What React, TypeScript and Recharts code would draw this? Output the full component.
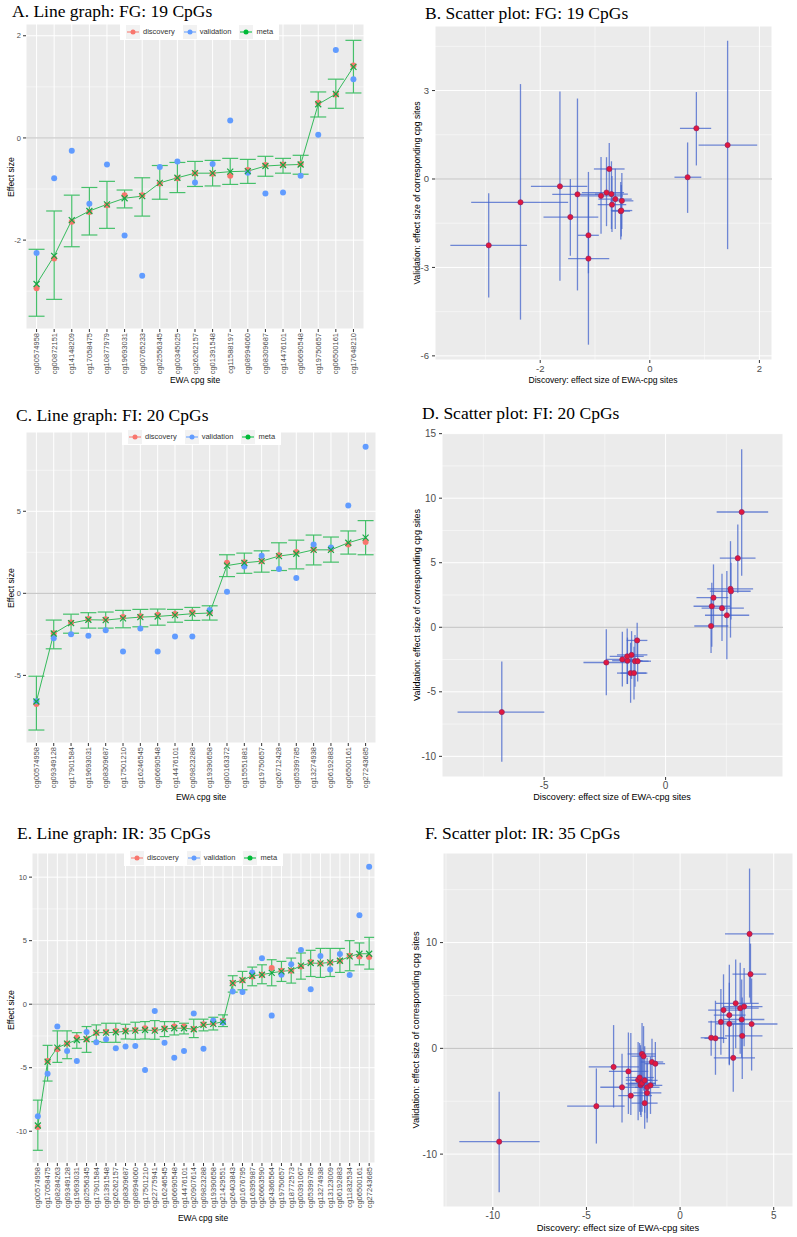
import React from "react";
import {
  ComposedChart,
  ScatterChart,
  Scatter,
  Line,
  XAxis,
  YAxis,
  CartesianGrid,
  ErrorBar,
  ReferenceLine,
} from "recharts";

const SANS = "'Liberation Sans', Arial, sans-serif";
const SERIF = "'Liberation Serif', 'Times New Roman', serif";

const seriesNames = ["discovery", "validation", "meta"];

// ---------- FG: 19 CpGs ----------
const fgSites = [
  "cg00574958", "cg00872151", "cg14148209", "cg17058475", "cg10877979", "cg19693031", "cg00765233",
  "cg02556345", "cg00345025", "cg26262157", "cg01391548", "cg11588197", "cg08994060", "cg08309687",
  "cg14476101", "cg06690548", "cg19750657", "cg06500161", "cg17648210",
];
const fgDiscovery = [-2.94, -2.36, -1.64, -1.45, -1.32, -1.12, -1.12, -0.89, -0.79, -0.69, -0.7, -0.74, -0.63, -0.53, -0.52, -0.51, 0.69, 0.85, 1.42];
const fgValidation = [-2.25, -0.79, -0.25, -1.29, -0.52, -1.91, -2.7, -0.57, -0.46, -0.87, -0.51, 0.34, -0.68, -1.09, -1.07, -0.74, 0.06, 1.72, 1.15];
const fgMeta = [-2.86, -2.31, -1.61, -1.43, -1.3, -1.18, -1.14, -0.88, -0.78, -0.69, -0.69, -0.66, -0.65, -0.55, -0.53, -0.52, 0.66, 0.86, 1.39];
const fgMetaLo = [-3.49, -3.16, -2.13, -1.9, -1.77, -1.37, -1.53, -1.2, -1.07, -0.95, -0.94, -0.91, -0.89, -0.75, -0.69, -0.71, 0.41, 0.58, 0.88];
const fgMetaHi = [-2.18, -1.43, -1.12, -0.97, -0.85, -1.02, -0.78, -0.54, -0.48, -0.46, -0.44, -0.4, -0.42, -0.36, -0.4, -0.34, 0.9, 1.15, 1.91];
const fgDiscLo = [-3.64, -3.26, -2.17, -1.94, -1.78, -1.31, -1.49, -1.27, -1.24, -0.95, -1.0, -1.02, -0.94, -0.7, -0.71, -0.72, 0.45, 0.55, 0.89];
const fgDiscHi = [-2.24, -1.49, -1.14, -0.94, -0.93, -0.93, -0.74, -0.49, -0.47, -0.43, -0.4, -0.46, -0.33, -0.36, -0.32, -0.3, 0.94, 1.12, 1.96];
const fgValLo = [-4.02, -4.77, -3.45, -2.6, -3.78, -3.2, -5.62, -1.86, -1.6, -1.8, -1.7, -0.55, -1.7, -2.05, -1.95, -1.7, -1.15, 0.46, -2.38];
const fgValHi = [-0.48, 3.22, 2.97, 0.0, 2.73, -0.6, 0.24, 0.75, 0.74, 0.1, 0.6, 1.22, 0.35, -0.1, -0.2, 0.2, 1.24, 2.95, 4.69];

// ---------- FI: 20 CpGs ----------
const fiSites = [
  "cg00574958", "cg09349128", "cg17901584", "cg19693031", "cg08309687", "cg17501210", "cg16246545",
  "cg06690548", "cg14476101", "cg09823288", "cg19390658", "cg00163372", "cg15551881", "cg19750657",
  "cg26712428", "cg05399785", "cg13274938", "cg06192883", "cg06500161", "cg27243685",
];
const fiDiscovery = [-6.74, -2.44, -1.78, -1.57, -1.58, -1.44, -1.4, -1.3, -1.26, -1.15, -1.17, 1.87, 1.9, 1.97, 2.32, 2.52, 2.67, 2.69, 2.97, 3.13];
const fiValidation = [-6.57, -2.73, -2.49, -2.59, -2.25, -3.55, -2.14, -3.55, -2.63, -2.63, -1.02, 0.1, 1.63, 2.29, 1.48, 0.93, 2.98, 2.79, 5.35, 8.93];
const fiMeta = [-6.59, -2.45, -1.82, -1.61, -1.63, -1.53, -1.45, -1.41, -1.33, -1.24, -1.2, 1.69, 1.86, 1.96, 2.27, 2.41, 2.65, 2.65, 3.08, 3.39];
const fiMetaLo = [-8.33, -3.38, -2.43, -2.12, -2.12, -2.1, -2.04, -1.94, -1.76, -1.65, -1.63, 1.02, 1.22, 1.29, 1.39, 1.49, 1.73, 1.9, 2.39, 2.35];
const fiMetaHi = [-5.05, -1.63, -1.27, -1.18, -1.14, -1.04, -0.98, -0.96, -0.98, -0.86, -0.76, 2.35, 2.45, 2.59, 3.08, 3.24, 3.55, 3.43, 3.8, 4.43];
const fiDiscLo = [-8.56, -3.38, -2.45, -2.2, -2.3, -2.0, -2.0, -1.85, -1.8, -1.7, -1.6, 1.18, 1.15, 1.27, 1.48, 1.62, 1.71, 1.82, 2.23, 2.1];
const fiDiscHi = [-4.99, -1.5, -1.1, -0.95, -0.9, -0.8, -0.75, -0.75, -0.7, -0.6, -0.75, 2.58, 2.65, 2.58, 3.22, 3.44, 3.6, 3.5, 3.7, 4.22];
const fiValLo = [-10.41, -5.26, -4.59, -4.4, -4.4, -5.85, -4.0, -5.6, -4.6, -4.2, -2.3, -2.0, -1.5, 0.0, -1.06, -2.47, -0.8, 0.6, 2.68, 4.0];
const fiValHi = [-2.65, -0.15, -0.34, -0.8, -0.1, -1.2, -0.3, -1.5, -0.6, -1.0, 0.35, 2.3, 3.45, 4.87, 4.15, 4.36, 6.67, 5.0, 7.96, 13.8];

// ---------- IR: 35 CpGs ----------
const irSites = [
  "cg00574958", "cg17058475", "cg08284263", "cg09349128", "cg19693031", "cg02556345", "cg17901584",
  "cg01391548", "cg26262157", "cg08309687", "cg08994060", "cg17501210", "cg22775941", "cg16246545",
  "cg06690548", "cg14476101", "cg20907614", "cg09823288", "cg19390658", "cg21429551", "cg26403843",
  "cg01676795", "cg16395987", "cg26663590", "cg24366564", "cg19750657", "cg18772573", "cg00391067",
  "cg05399785", "cg13274938", "cg13123009", "cg06192883", "cg11832534", "cg06500161", "cg27243685",
];
const irDiscovery = [-9.66, -4.47, -3.55, -3.1, -2.63, -2.76, -2.24, -2.16, -2.11, -2.08, -2.03, -1.89, -2.03, -1.89, -1.76, -1.76, -1.95, -1.58, -1.5, -1.32, 1.66, 1.89, 2.18, 2.32, 2.84, 2.63, 2.63, 2.97, 3.32, 3.21, 3.29, 3.42, 3.82, 3.76, 3.71];
const irValidation = [-8.82, -5.47, -1.76, -3.68, -4.47, -2.18, -3.0, -2.76, -3.47, -3.34, -3.29, -5.18, -0.53, -3.03, -4.21, -3.68, -0.74, -3.5, -1.29, -1.45, 1.0, 0.95, 2.5, 3.62, -0.9, 2.32, 3.14, 4.26, 1.18, 3.8, 2.73, 3.95, 2.3, 7.01, 10.82];
const irMeta = [-9.55, -4.53, -3.42, -3.1, -2.82, -2.76, -2.24, -2.24, -2.21, -2.13, -2.08, -2.03, -2.08, -1.95, -1.89, -1.89, -1.97, -1.63, -1.55, -1.37, 1.66, 1.89, 2.24, 2.32, 2.47, 2.58, 2.66, 3.03, 3.24, 3.21, 3.29, 3.42, 3.76, 3.97, 3.97];
const irMetaLo = [-11.5, -6.05, -4.58, -4.29, -3.47, -3.79, -2.95, -3.0, -3.0, -2.74, -2.76, -2.74, -2.76, -2.55, -2.42, -2.34, -2.63, -2.1, -2.03, -1.76, 0.95, 1.13, 1.45, 1.61, 1.45, 1.79, 1.66, 1.97, 2.18, 2.11, 2.18, 2.5, 2.63, 3.1, 2.76];
const irMetaHi = [-7.55, -3.24, -2.1, -2.1, -2.24, -1.76, -1.63, -1.5, -1.5, -1.58, -1.42, -1.37, -1.29, -1.37, -1.37, -1.5, -1.18, -1.18, -1.03, -0.84, 2.24, 2.58, 2.92, 3.1, 3.5, 3.37, 3.63, 4.03, 4.24, 4.39, 4.39, 4.39, 5.0, 4.82, 5.26];
const irDiscLo = [-11.79, -6.03, -4.88, -4.26, -3.3, -3.8, -2.9, -2.9, -2.8, -2.9, -2.7, -2.6, -2.8, -2.6, -2.5, -2.4, -2.6, -2.2, -2.1, -1.9, 1.1, 1.3, 1.5, 1.5, 1.8, 1.9, 1.8, 1.9, 2.4, 2.2, 2.3, 2.3, 2.7, 2.8, 2.4];
const irDiscHi = [-7.5, -2.96, -2.2, -1.86, -1.5, -1.7, -1.5, -1.4, -1.4, -1.3, -1.3, -1.2, -1.3, -1.2, -1.0, -1.1, -1.3, -0.95, -0.9, -0.8, 2.3, 2.5, 3.0, 3.3, 4.0, 3.4, 3.5, 4.2, 4.4, 4.2, 4.5, 4.4, 5.2, 4.6, 5.0];
const irValLo = [-13.6, -9.0, -5.6, -7.0, -6.3, -6.2, -6.8, -6.0, -6.3, -6.5, -6.0, -7.6, -3.8, -6.1, -7.0, -6.6, -4.0, -6.2, -3.5, -3.5, -0.7, -2.5, -0.6, 0.5, -4.1, -1.6, -1.5, 0.0, -2.9, -0.5, -0.9, 0.2, -2.1, 4.3, 4.8];
const irValHi = [-4.1, -1.9, 2.2, -0.5, 1.45, 1.5, 0.6, 0.5, 0.3, -0.1, -0.5, -2.8, 2.4, 0.2, -1.4, -0.9, 2.1, -0.8, 0.9, 0.6, 2.6, 4.5, 5.6, 7.0, 2.3, 6.2, 7.9, 8.4, 4.8, 8.1, 6.5, 7.6, 6.6, 9.9, 17.0];

type Arr = number[];

function buildLineRows(sites: string[], disc: Arr, val: Arr, meta: Arr, lo: Arr, hi: Arr) {
  return sites.map((site, i) => ({
    idx: i,
    site,
    discovery: disc[i],
    validation: val[i],
    meta: meta[i],
    metaErr: [meta[i] - lo[i], hi[i] - meta[i]],
  }));
}

function buildScatterRows(disc: Arr, val: Arr, dLo: Arr, dHi: Arr, vLo: Arr, vHi: Arr) {
  return disc.map((d, i) => ({
    x: d,
    y: val[i],
    xErr: [d - dLo[i], dHi[i] - d],
    yErr: [val[i] - vLo[i], vHi[i] - val[i]],
  }));
}

const GREEN = "#35BA5C";
const RED = "#F8766D";
const BLUE = "#619CFF";
const legendColors = [RED, BLUE, "#00BA38"];

function SiteTick(props: any) {
  const { x, y, payload, sites } = props;
  return (
    <text
      x={x}
      y={y}
      transform={`rotate(-90, ${x}, ${y})`}
      textAnchor="end"
      dominantBaseline="central"
      fill="#4D4D4D"
      fontSize={7.5}
      fontFamily={SANS}
    >
      {sites[payload.value]}
    </text>
  );
}

const metaCross = (p: any) => {
  const { cx, cy, index } = p;
  if (cx == null || cy == null) return <g key={`mc-${index}`} />;
  return (
    <g key={`mc-${index}`}>
      <line x1={cx - 3} y1={cy - 3} x2={cx + 3} y2={cy + 3} stroke="#17A844" strokeWidth={1.2} />
      <line x1={cx - 3} y1={cy + 3} x2={cx + 3} y2={cy - 3} stroke="#17A844" strokeWidth={1.2} />
    </g>
  );
};

const redPoint = (p: any) => (
  <circle cx={p.cx} cy={p.cy} r={2.6} fill="#E3173E" stroke="#8E2460" strokeWidth={0.7} />
);

function LineLegend({ left, top }: { left: number; top: number }) {
  return (
    <div
      style={{
        position: "absolute",
        left,
        top,
        background: "#FFFFFF",
        display: "flex",
        alignItems: "center",
        padding: "1px 6px",
        gap: 8,
        fontFamily: SANS,
        fontSize: 7.5,
        color: "#333333",
        lineHeight: "14px",
      }}
    >
      {seriesNames.map((name, i) => (
        <div key={name} style={{ display: "flex", alignItems: "center", gap: 3 }}>
          <svg width={14} height={14}>
            <rect x={0} y={0} width={14} height={14} fill="#F2F2F2" />
            <line x1={1} y1={7} x2={13} y2={7} stroke={legendColors[i]} strokeWidth={1} />
            <circle cx={7} cy={7} r={2.5} fill={legendColors[i]} />
          </svg>
          <span>{name}</span>
        </div>
      ))}
    </div>
  );
}

function Title({ text, left, top }: { text: string; left: number; top: number }) {
  return (
    <div
      style={{
        position: "absolute",
        left,
        top,
        fontFamily: SERIF,
        fontSize: 17.5,
        lineHeight: 1.15,
        whiteSpace: "nowrap",
        color: "#000",
      }}
    >
      {text}
    </div>
  );
}

function AxisTitle({ text, cx, cy, size, rotate }: { text: string; cx: number; cy: number; size: number; rotate?: boolean }) {
  return (
    <div
      style={{
        position: "absolute",
        left: cx,
        top: cy,
        transform: `translate(-50%, -50%)${rotate ? " rotate(-90deg)" : ""}`,
        fontFamily: SANS,
        fontSize: size,
        lineHeight: 1,
        whiteSpace: "nowrap",
        color: "#000",
      }}
    >
      {text}
    </div>
  );
}

type LineProps = {
  rows: ReturnType<typeof buildLineRows>;
  sites: string[];
  left: number;
  top: number;
  width: number;
  height: number;
  yWidth: number;
  xHeight: number;
  right: number;
  yDomain: [number, number];
  yTicks: number[];
  yMinor: number[];
  cap: number;
};

function LinePanel(p: LineProps) {
  const n = p.rows.length;
  return (
    <div style={{ position: "absolute", left: p.left, top: p.top }}>
      <ComposedChart
        width={p.width}
        height={p.height}
        data={p.rows}
        margin={{ top: 4, right: p.right, bottom: 0, left: 0 }}
      >
        <CartesianGrid fill="#EBEBEB" stroke="#FFFFFF" strokeWidth={1} />
        <CartesianGrid horizontalValues={p.yMinor} vertical={false} stroke="#FFFFFF" strokeWidth={0.5} />
        <XAxis
          type="number"
          dataKey="idx"
          domain={[-0.6, n - 0.4]}
          ticks={p.rows.map((r) => r.idx)}
          interval={0}
          allowDataOverflow
          height={p.xHeight}
          axisLine={false}
          tickLine={{ stroke: "#333333" }}
          tickSize={3}
          tickMargin={1}
          tick={(t: any) => <SiteTick {...t} sites={p.sites} />}
        />
        <YAxis
          type="number"
          domain={p.yDomain}
          ticks={p.yTicks}
          allowDataOverflow
          width={p.yWidth}
          axisLine={false}
          tickLine={{ stroke: "#333333" }}
          tickSize={3}
          tickMargin={2}
          tick={{ fill: "#4D4D4D", fontSize: 7.5, fontFamily: SANS }}
        />
        <ReferenceLine y={0} stroke="#BDBDBD" strokeWidth={1} />
        <Line dataKey="meta" stroke={GREEN} strokeWidth={1} dot={false} isAnimationActive={false}>
          <ErrorBar dataKey="metaErr" width={p.cap} stroke="#45C06A" strokeWidth={1.2} />
        </Line>
        <Line
          dataKey="discovery"
          stroke="none"
          dot={{ r: 3, fill: RED, stroke: RED, strokeWidth: 0 }}
          isAnimationActive={false}
        />
        <Line
          dataKey="validation"
          stroke="none"
          dot={{ r: 3, fill: BLUE, stroke: BLUE, strokeWidth: 0 }}
          isAnimationActive={false}
        />
        <Line dataKey="meta" stroke="none" dot={metaCross} isAnimationActive={false} />
      </ComposedChart>
    </div>
  );
}

type ScatterProps = {
  rows: ReturnType<typeof buildScatterRows>;
  left: number;
  top: number;
  width: number;
  height: number;
  yWidth: number;
  xHeight: number;
  right: number;
  mTop: number;
  xDomain: [number, number];
  yDomain: [number, number];
  xTicks: number[];
  yTicks: number[];
  xMinor: number[];
  yMinor: number[];
  font: number;
};

function ScatterPanel(p: ScatterProps) {
  const tickStyle = { fill: "#4D4D4D", fontSize: p.font, fontFamily: SANS };
  return (
    <div style={{ position: "absolute", left: p.left, top: p.top }}>
      <ScatterChart
        width={p.width}
        height={p.height}
        margin={{ top: p.mTop, right: p.right, bottom: 0, left: 0 }}
      >
        <CartesianGrid fill="#EBEBEB" stroke="#FFFFFF" strokeWidth={1} />
        <CartesianGrid
          horizontalValues={p.yMinor}
          verticalValues={p.xMinor}
          stroke="#FFFFFF"
          strokeWidth={0.5}
        />
        <XAxis
          type="number"
          dataKey="x"
          domain={p.xDomain}
          ticks={p.xTicks}
          interval={0}
          allowDataOverflow
          height={p.xHeight}
          axisLine={false}
          tickLine={{ stroke: "#333333" }}
          tickSize={3}
          tickMargin={2}
          tick={tickStyle}
        />
        <YAxis
          type="number"
          dataKey="y"
          domain={p.yDomain}
          ticks={p.yTicks}
          interval={0}
          allowDataOverflow
          width={p.yWidth}
          axisLine={false}
          tickLine={{ stroke: "#333333" }}
          tickSize={3}
          tickMargin={3}
          tick={tickStyle}
        />
        <ReferenceLine y={0} stroke="#BDBDBD" strokeWidth={1} />
        <Scatter data={p.rows} shape={redPoint} isAnimationActive={false}>
          <ErrorBar dataKey="xErr" direction="x" width={0} stroke="#4464CC" strokeOpacity={0.75} strokeWidth={1.3} />
          <ErrorBar dataKey="yErr" direction="y" width={0} stroke="#4464CC" strokeOpacity={0.75} strokeWidth={1.3} />
        </Scatter>
      </ScatterChart>
    </div>
  );
}

const fgLine = buildLineRows(fgSites, fgDiscovery, fgValidation, fgMeta, fgMetaLo, fgMetaHi);
const fiLine = buildLineRows(fiSites, fiDiscovery, fiValidation, fiMeta, fiMetaLo, fiMetaHi);
const irLine = buildLineRows(irSites, irDiscovery, irValidation, irMeta, irMetaLo, irMetaHi);
const fgScatter = buildScatterRows(fgDiscovery, fgValidation, fgDiscLo, fgDiscHi, fgValLo, fgValHi);
const fiScatter = buildScatterRows(fiDiscovery, fiValidation, fiDiscLo, fiDiscHi, fiValLo, fiValHi);
const irScatter = buildScatterRows(irDiscovery, irValidation, irDiscLo, irDiscHi, irValLo, irValHi);

const xTitle = "Discovery: effect size of EWA-cpg sites";
const yTitle = "Validation: effect size of corresponding cpg sites";

export default function App() {
  return (
    <div
      style={{
        position: "absolute",
        left: 0,
        top: 0,
        width: 797,
        height: 1237,
        background: "#FFFFFF",
        overflow: "hidden",
      }}
    >
      {/* A */}
      <Title text="A. Line graph: FG: 19 CpGs" left={12} top={1} />
      <LinePanel
        rows={fgLine}
        sites={fgSites}
        left={0}
        top={20}
        width={390}
        height={370}
        yWidth={26}
        xHeight={61}
        right={26}
        yDomain={[-3.74, 2.23]}
        yTicks={[-2, 0, 2]}
        yMinor={[-3, -1, 1]}
        cap={8}
      />
      <LineLegend left={120} top={24} />
      <AxisTitle text="Effect size" cx={11} cy={177} size={8.7} rotate />
      <AxisTitle text="EWA cpg site" cx={195} cy={380} size={8.5} />

      {/* B */}
      <Title text="B. Scatter plot: FG: 19 CpGs" left={425} top={3} />
      <ScatterPanel
        rows={fgScatter}
        left={400}
        top={22}
        width={392}
        height={368}
        yWidth={35}
        xHeight={30}
        right={20}
        mTop={4}
        xDomain={[-3.92, 2.23]}
        yDomain={[-6.14, 5.19]}
        xTicks={[-2, 0, 2]}
        yTicks={[-6, -3, 0, 3]}
        xMinor={[-3, -1, 1]}
        yMinor={[-4.5, -1.5, 1.5, 4.5]}
        font={9.5}
      />
      <AxisTitle text={xTitle} cx={603} cy={380} size={8.6} />
      <AxisTitle text={yTitle} cx={417} cy={193} size={8.6} rotate />

      {/* C */}
      <Title text="C. Line graph: FI: 20 CpGs" left={16} top={405} />
      <LinePanel
        rows={fiLine}
        sites={fiSites}
        left={0}
        top={428}
        width={396}
        height={370}
        yWidth={26}
        xHeight={55}
        right={20}
        yDomain={[-9.12, 9.83]}
        yTicks={[-5, 0, 5]}
        yMinor={[-7.5, -2.5, 2.5, 7.5]}
        cap={8}
      />
      <LineLegend left={122} top={429} />
      <AxisTitle text="Effect size" cx={11} cy={588} size={8.7} rotate />
      <AxisTitle text="EWA cpg site" cx={201} cy={797} size={8.5} />

      {/* D */}
      <Title text="D. Scatter plot: FI: 20 CpGs" left={422} top={403} />
      <ScatterPanel
        rows={fiScatter}
        left={400}
        top={428}
        width={393}
        height={379}
        yWidth={42}
        xHeight={30}
        right={10}
        mTop={5}
        xDomain={[-9.2, 4.83]}
        yDomain={[-11.6, 15.05]}
        xTicks={[-5, 0]}
        yTicks={[-10, -5, 0, 5, 10, 15]}
        xMinor={[-7.5, -2.5, 2.5]}
        yMinor={[-7.5, -2.5, 2.5, 7.5, 12.5]}
        font={10}
      />
      <AxisTitle text={xTitle} cx={612} cy={798} size={9.1} />
      <AxisTitle text={yTitle} cx={417} cy={605} size={9} rotate />

      {/* E */}
      <Title text="E. Line graph: IR: 35 CpGs" left={17} top={823} />
      <LinePanel
        rows={irLine}
        sites={irSites}
        left={0}
        top={849}
        width={395}
        height={370}
        yWidth={32}
        xHeight={56}
        right={20}
        yDomain={[-12.5, 11.9]}
        yTicks={[-10, -5, 0, 5, 10]}
        yMinor={[-7.5, -2.5, 2.5, 7.5]}
        cap={5}
      />
      <LineLegend left={124} top={850} />
      <AxisTitle text="Effect size" cx={11} cy={1010} size={8.7} rotate />
      <AxisTitle text="EWA cpg site" cx={203} cy={1218} size={8.5} />

      {/* F */}
      <Title text="F. Scatter plot: IR: 35 CpGs" left={425} top={823} />
      <ScatterPanel
        rows={irScatter}
        left={400}
        top={849}
        width={396}
        height={383}
        yWidth={43}
        xHeight={25}
        right={3}
        mTop={4}
        xDomain={[-12.66, 6.03]}
        yDomain={[-15.0, 18.47]}
        xTicks={[-10, -5, 0, 5]}
        yTicks={[-10, 0, 10]}
        xMinor={[-12.5, -7.5, -2.5, 2.5]}
        yMinor={[-5, 5, 15]}
        font={10}
      />
      <AxisTitle text={xTitle} cx={618} cy={1228} size={9.4} />
      <AxisTitle text={yTitle} cx={417} cy={1030} size={9.25} rotate />
    </div>
  );
}
